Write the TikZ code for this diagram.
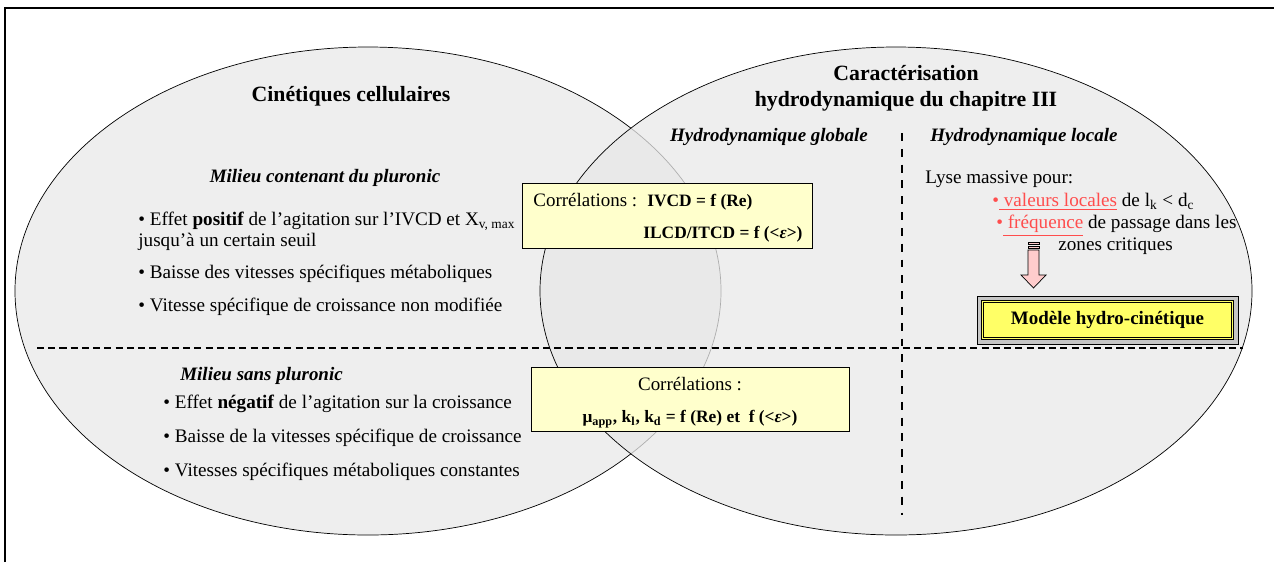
\documentclass[tikz,border=0pt]{standalone}
\usepackage{fontspec}
\setmainfont{Liberation Serif}
\usetikzlibrary{positioning}
\definecolor{ellgray}{HTML}{EEEEEE}
\definecolor{ellgraytop}{HTML}{E8E8E8}
\definecolor{corryellow}{HTML}{FFFFCC}
\definecolor{modelyellow}{HTML}{FFFF66}
\definecolor{lysered}{HTML}{FF4D4D}
\definecolor{arrowpink}{HTML}{FFCCCC}
\tikzset{
    txt/.style={inner sep=0pt, font=\fontsize{10.9}{11.9}\selectfont, text height=7.4pt, text depth=2.3pt},
    item/.style={txt, anchor=west},
    heading/.style={inner sep=0pt, align=center, font=\fontsize{12.4}{14.7}\selectfont\bfseries},
    subhead/.style={txt, font=\fontsize{10.8}{12}\selectfont\bfseries\itshape},
    corrbox/.style={draw, thin, fill=corryellow, inner sep=0pt},
    corrtxt/.style={inner sep=0pt, font=\fontsize{10.8}{12}\selectfont, text height=7.4pt, text depth=2.3pt},
    corrbold/.style={corrtxt, font=\fontsize{9.9}{11}\selectfont\bfseries},
    halfline/.style={dash pattern=on 4pt off 2.4pt, line width=1.1pt},
    splitline/.style={dash pattern=on 4.5pt off 4.5pt, line width=0.8pt}
}

\begin{document}
\begin{tikzpicture}[x=0.02cm, y=-0.02cm]
\useasboundingbox (0,0) rectangle (1274,562);
\draw[line width=1.1pt] (5,562) -- (5,8) -- (1274,8);

% the two domains
\draw[fill=ellgray] (368,291) ellipse [x radius=353, y radius=244];
\fill[ellgraytop, fill opacity=0.75] (896,291) ellipse [x radius=356, y radius=244];
\draw (896,291) ellipse [x radius=356, y radius=244];

\draw[halfline] (37,348) -- (1243,348);
\draw[splitline] (902,133) -- (902,515);

% cinetiques
\node[heading] (cellTitle) at (351,96) {Cinétiques cellulaires};
\node[subhead] (withPl) at (325,178) {Milieu contenant du pluronic};
\node[item] (with1) at (138,221) {• Effet \textbf{positif} de l’agitation sur l’IVCD et X\textsubscript{v, max}};
\node[item] (with1b) at (138,242) {jusqu’à un certain seuil};
\node[item] (with2) at (138,274) {• Baisse des vitesses spécifiques métaboliques};
\node[item] (with3) at (138,307) {• Vitesse spécifique de croissance non modifiée};
\node[subhead, anchor=west] (noPl) at (180,376) {Milieu sans pluronic};
\node[item] (no1) at (163,404) {• Effet \textbf{négatif} de l’agitation sur la croissance};
\node[item] (no2) at (163,438) {• Baisse de la vitesses spécifique de croissance};
\node[item] (no3) at (163,472) {• Vitesses spécifiques métaboliques constantes};

% hydrodynamique
\node[heading] (hydroTitle) at (906,88) {Caractérisation\\hydrodynamique du chapitre III};
\node[subhead] (glob) at (769,137) {Hydrodynamique globale};
\node[subhead] (loc) at (1024,137) {Hydrodynamique locale};
\node[item] (lyse) at (925,179) {Lyse massive pour:};
\node[item] (lyse1) at (992,202) {\textcolor{lysered}{•\underline{ valeurs locales}} de l\textsubscript{k} < d\textsubscript{c}};
\node[item] (lyse2) at (996,224) {\textcolor{lysered}{•\underline{ fréquence}} de passage dans les};
\node[item] (lyse3) at (1058,246) {zones critiques};

% correlations
\node[corrbox, minimum width=5.8cm, minimum height=1.3cm] (corrTop) at (667,215.5) {};
\node[corrtxt, anchor=west] (corrTopA) at (533,202) {Corrélations :};
\node[corrbold, anchor=west] (corrTopB) at (647,202) {IVCD = f (Re)};
\node[corrbold, anchor=west] (corrTopC) at (643,234) {ILCD/ITCD = f (<\textit{ε}>)};
\node[corrbox, minimum width=6.36cm, minimum height=1.28cm] (corrBot) at (690.5,399) {};
\node[corrtxt] (corrBotA) at (690,386) {Corrélations :};
\node[corrbold] (corrBotB) at (690,418) {μ\textsubscript{app}, k\textsubscript{l}, k\textsubscript{d} = f (Re) et~ f (<\textit{ε}>)};

% arrow and model
\draw[fill=arrowpink, line width=0.4pt] (1028,242) rectangle (1039,244.5);
\draw[fill=arrowpink, line width=0.4pt] (1028,246.5) rectangle (1039,248.5);
\draw[fill=arrowpink, line width=0.4pt] (1028,250) -- (1039,250) -- (1039,275) -- (1046,275)
    -- (1033.5,288) -- (1021,275) -- (1028,275) -- cycle;
\node[draw, fill=gray!45, line width=0.5pt, minimum width=5.22cm, minimum height=0.96cm] (modelFrame) at (1107.5,320) {};
\node[draw, double=modelyellow, double distance=1pt, line width=0.6pt, fill=modelyellow,
    minimum width=5.0cm, minimum height=0.74cm, font=\fontsize{10.8}{12}\selectfont\bfseries] (model) at (1107.5,320) {Modèle hydro-cinétique};
\end{tikzpicture}
\end{document}
